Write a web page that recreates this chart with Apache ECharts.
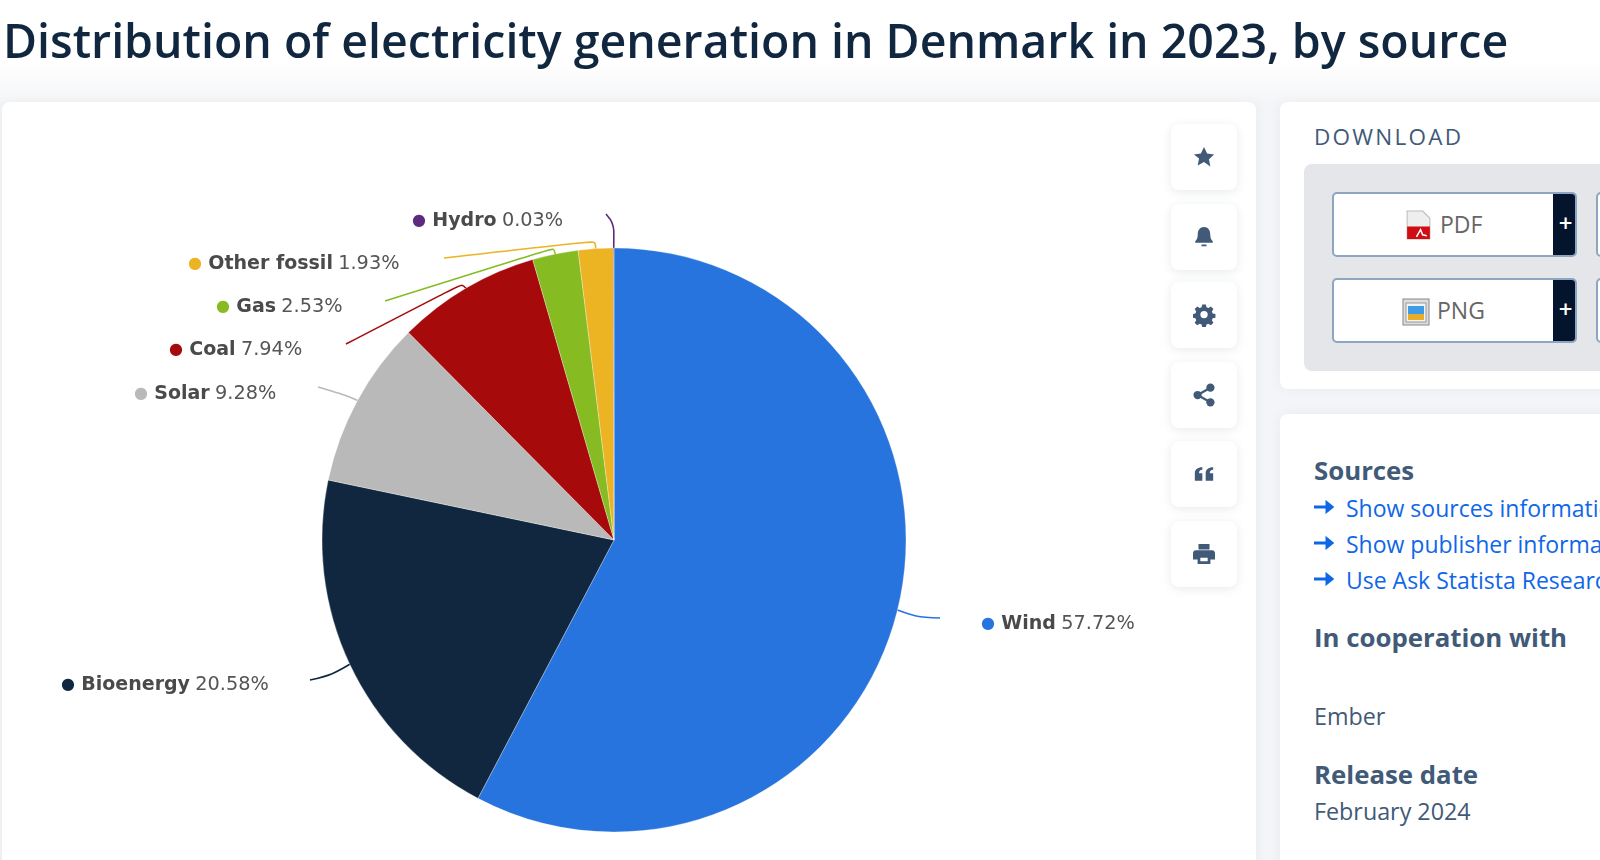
<!DOCTYPE html>
<html>
<head>
<meta charset="utf-8">
<title>Distribution of electricity generation in Denmark in 2023, by source</title>
<script src="https://cdn.jsdelivr.net/npm/echarts@6/dist/echarts.min.js"></script>
<style>
  html, body { margin: 0; padding: 0; width: 1600px; height: 860px; overflow: hidden; background: #f3f5f8; font-family: "Open Sans", sans-serif; }
  #top { position: absolute; left: 0; top: 0; width: 1600px; height: 102px; background: linear-gradient(#fff 60%, #f5f6f8); }
  .card { position: absolute; background: #fff; border-radius: 8px; }
  .side { position: absolute; left: 1171px; width: 66px; height: 66px; background: #fff; border-radius: 8px; box-shadow: 0 2px 10px rgba(60,80,110,.12); display: flex; align-items: center; justify-content: center; }
  .txt { position: absolute; white-space: nowrap; line-height: 30px; height: 30px; color: #415a78; }
  .h { font-weight: 700; }
  .link { color: #0f67e8; font-size: 23px; left: 1346px; }
  .arrow { position: absolute; left: 1314px; }
  .btn { position: absolute; left: 1332px; width: 245px; height: 65px; box-sizing: border-box; background: #fff; border: 2px solid #8ea5c2; border-radius: 5px; overflow: hidden; }
  .btn b { position: absolute; right: 0; top: 0; width: 22px; padding-left: 3px; box-sizing: border-box; height: 100%; background: #03142c; color: #fff; font-size: 24px; line-height: 58px; text-align: center; font-weight: 600; }
  .btn span { position: absolute; top: 0; line-height: 61px; font-size: 23px; color: #666; }
  .stub { position: absolute; left: 1596px; width: 10px; height: 65px; box-sizing: border-box; background: #fff; border: 2px solid #8ea5c2; border-radius: 5px; }
  #main { position: absolute; left: 0; top: 0; width: 1600px; height: 860px; pointer-events: none; }
</style>
</head>
<body>
<div id="top"></div>
<div class="card" style="left:2px;top:102px;width:1254px;height:780px;box-shadow:0 0 12px rgba(60,80,110,.06)"></div>
<div class="card" style="left:1280px;top:102px;width:340px;height:287px;box-shadow:0 0 12px rgba(60,80,110,.06)"></div>
<div class="card" style="left:1280px;top:414px;width:340px;height:470px;box-shadow:0 0 12px rgba(60,80,110,.06)"></div>

<div class="side" style="top:124px"><svg width="22" height="22" viewBox="0 0 24 24"><path fill="#415a78" d="M12 1l3.4 7.2 7.6 1-5.6 5.3 1.5 7.8L12 17.5l-6.9 3.8 1.5-7.8L1 9.2l7.6-1z"/></svg></div>
<div class="side" style="top:204px"><svg width="20" height="24" viewBox="0 0 24 26"><path fill="#415a78" d="M12 1c5 0 7.5 4 7.5 9 0 4 1 6 3 8 .6.8 0 2-1 2H2.500c-1 0-1.600-1.200-1-2 2-2 3-4 3-8 0-5 2.500-9 7.500-9zM9 22h6v2H9z"/></svg></div>
<div class="side" style="top:282px"><svg width="23" height="23" viewBox="0 0 24 24"><path fill="#415a78" fill-rule="evenodd" d="M10 1h4l.6 3 2.200.9 2.600-1.700 2.800 2.800-1.700 2.600.9 2.200 3 .6v4l-3 .6-.9 2.200 1.700 2.600-2.800 2.800-2.600-1.700-2.200.9-.6 3h-4l-.6-3-2.200-.9-2.600 1.700-2.800-2.800 1.700-2.600-.9-2.200-3-.6v-4l3-.6.9-2.200L1.800 6l2.800-2.800 2.600 1.700L9.400 4zM12 8a4 4 0 1 0 0 8 4 4 0 0 0 0-8z" transform="translate(0 -.5) scale(.96)"/></svg></div>
<div class="side" style="top:362px"><svg width="22" height="24" viewBox="0 0 24 26"><g fill="#415a78"><circle cx="19" cy="5" r="4.500"/><circle cx="5" cy="13" r="4.500"/><circle cx="19" cy="21" r="4.500"/></g><path stroke="#415a78" stroke-width="2.500" fill="none" d="M19 5L5 13l14 8"/></svg></div>
<div class="side" style="top:441px"><svg width="20" height="16" viewBox="0 0 24 18"><path fill="#415a78" d="M10 1v3C7 4 6 6 6 8h4v9H1V8c0-4 3-7 9-7zM23 1v3c-3 0-4 2-4 4h4v9h-9V8c0-4 3-7 9-7z"/></svg></div>
<div class="side" style="top:521px"><svg width="22" height="22" viewBox="0 0 24 24"><path fill="#415a78" fill-rule="evenodd" d="M6 1h12v6H6zM3 8h18c1.500 0 3 1.500 3 3v7h-5v5H5v-5H0v-7c0-1.500 1.500-3 3-3zM8 16v4h8v-4z"/></svg></div>

<div class="txt" style="left:1314px;top:122px;font-size:22.500px;letter-spacing:2.250px;font-weight:500;">DOWNLOAD</div>
<div class="card" style="left:1304px;top:164px;width:320px;height:207px;background:#e4e6e9"></div>

<div class="btn" style="top:192px"><svg style="position:absolute;left:72px;top:16px" width="25" height="30" viewBox="0 0 24 29"><path fill="#eee" stroke="#bbb" d="M1 1h15l7 7v20H1z"/><path fill="#d00d12" d="M1 16h22v12H1z"/><path stroke="#fff" stroke-width="1.500" fill="none" d="M10 26l4-7 2 5 4 1"/></svg><span style="left:106px">PDF</span><b>+</b></div>
<div class="btn" style="top:278px"><svg style="position:absolute;left:68px;top:18px" width="28" height="28" viewBox="0 0 28 28"><rect x="1" y="1" width="26" height="26" fill="#ddd" stroke="#888"/><rect x="4" y="5" width="20" height="19" fill="#f4f4f4" stroke="#999"/><rect x="6" y="8" width="16" height="8" fill="#3d9be8"/><rect x="6" y="16" width="16" height="6" fill="#e8ae2a"/></svg><span style="left:103px">PNG</span><b>+</b></div>
<div class="stub" style="top:192px"></div>
<div class="stub" style="top:278px"></div>

<div class="txt h" style="left:1314px;top:455px;font-size:25.800px;">Sources</div>
<svg class="arrow" style="top:500px" width="20" height="14" viewBox="0 0 20 14"><path stroke="#0f67e8" stroke-width="3" fill="#0f67e8" d="M0 7h16M13 3l5 4-5 4z"/></svg>
<div class="txt link" style="top:493px">Show sources information</div>
<svg class="arrow" style="top:536px" width="20" height="14" viewBox="0 0 20 14"><path stroke="#0f67e8" stroke-width="3" fill="#0f67e8" d="M0 7h16M13 3l5 4-5 4z"/></svg>
<div class="txt link" style="top:529px">Show publisher information</div>
<svg class="arrow" style="top:572px" width="20" height="14" viewBox="0 0 20 14"><path stroke="#0f67e8" stroke-width="3" fill="#0f67e8" d="M0 7h16M13 3l5 4-5 4z"/></svg>
<div class="txt link" style="top:565px">Use Ask Statista Research Analyst</div>
<div class="txt h" style="left:1314px;top:622px;font-size:25.800px;">In cooperation with</div>
<div class="txt" style="left:1314px;top:701px;font-size:23.300px;">Ember</div>
<div class="txt h" style="left:1314px;top:759px;font-size:25.800px;">Release date</div>
<div class="txt" style="left:1314px;top:796px;font-size:23.300px;">February 2024</div>

<div id="main"></div>
<script>
var chartTitle = 'Distribution of electricity generation in Denmark in 2023, by source';
var sources = ['Wind', 'Bioenergy', 'Solar', 'Coal', 'Gas', 'Other fossil', 'Hydro'];
var shares = [57.72, 20.58, 9.28, 7.94, 2.53, 1.93, 0.03];
var colors = ['#2874de', '#10273f', '#b9b9b9', '#a60a0a', '#87bb22', '#ecb323', '#5e2a7e'];

// where each label sits and how its leader bends
var labelSpots = [[981, 624], [61, 685], [134, 394], [169, 350], [216, 307], [188, 264], [412, 221]];
var bends = [[916, 617], [332, 675], [345, 395], [462, 284], [554, 248], [595, 241], [614, 224]];
var lineEnds = [[940, 618], [310, 680], [318, 387], [346, 344], [385, 301], [444, 258], [606, 214]];

var myChart = echarts.init(document.getElementById('main'), null, { renderer: 'canvas' });
myChart.setOption({
  animation: false,
  backgroundColor: 'transparent',
  title: {
    text: chartTitle,
    left: -2,
    top: 16,
    textStyle: { fontFamily: 'Open Sans', fontSize: 46.5, fontWeight: 600, color: '#10273f' }
  },
  tooltip: { show: false },
  series: [{
    type: 'pie',
    center: [614, 540],
    radius: 292,
    startAngle: 90,
    avoidLabelOverlap: false,
    minAngle: 0,
    silent: true,
    emphasis: { disabled: true },
    itemStyle: { borderColor: '#fff', borderWidth: 0.3 },
    labelLine: { show: true, smooth: 0.35, lineStyle: { width: 1.6 } },
    data: sources.map(function (name, i) {
      return {
        name: name,
        value: shares[i],
        itemStyle: { color: colors[i] },
        labelLine: { lineStyle: { color: colors[i] } },
        label: {
          show: true,
          formatter: '{dot|●} {name|' + name + '} {val|' + shares[i].toFixed(2) + '%}',
          rich: {
            dot: { color: colors[i], fontSize: 16, fontFamily: 'DejaVu Sans', padding: [0, 3, 0, 0] },
            name: { color: '#4a4a4a', fontSize: 19, fontWeight: 700, fontFamily: 'DejaVu Sans', padding: [0, 2, 0, 0] },
            val: { color: '#555', fontSize: 19.3, fontFamily: 'DejaVu Sans' }
          }
        }
      };
    }),
    labelLayout: function (params) {
      var i = params.dataIndex;
      return {
        x: labelSpots[i][0],
        y: labelSpots[i][1],
        align: 'left',
        verticalAlign: 'middle',
        labelLinePoints: [params.labelLinePoints[0], bends[i], lineEnds[i]]
      };
    }
  }]
});
</script>
</body>
</html>
